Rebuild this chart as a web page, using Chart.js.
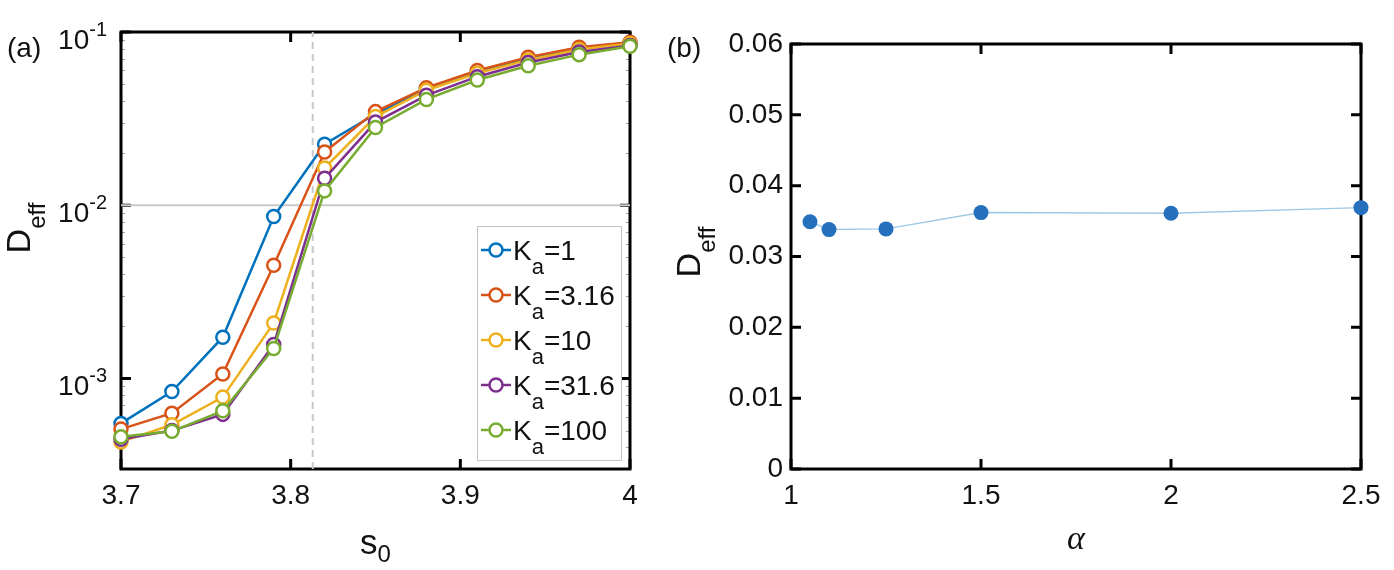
<!DOCTYPE html>
<html>
<head>
<meta charset="utf-8">
<script src="https://cdn.jsdelivr.net/npm/chart.js@4.4.1/dist/chart.umd.min.js"></script>
<style>
  html, body { margin: 0; padding: 0; background: #fff; }
  #wrapA { position: absolute; left: 0; top: 0; width: 660px; height: 570px; }
  #wrapB { position: absolute; left: 660px; top: 0; width: 734px; height: 570px; }
</style>
</head>
<body>
<div id="wrapA"><canvas id="chartA"></canvas></div>
<div id="wrapB"><canvas id="chartB"></canvas></div>
<script>
// panel (a): D_eff against s0 for several K_a
const s0 = [3.70, 3.73, 3.76, 3.79, 3.82, 3.85, 3.88, 3.91, 3.94, 3.97, 4.00];
const kaLabels = ['1', '3.16', '10', '31.6', '100'];
const dKa1    = [5.5e-4, 8.4e-4, 1.73e-3, 8.6e-3, 0.0225, 0.0336, 0.0472, 0.0590, 0.0708, 0.0810, 0.0866];
const dKa316  = [5.1e-4, 6.3e-4, 1.06e-3, 4.5e-3, 0.0203, 0.0347, 0.0477, 0.0599, 0.0716, 0.0817, 0.0874];
const dKa10   = [4.3e-4, 5.4e-4, 7.8e-4, 2.09e-3, 0.0164, 0.0325, 0.0461, 0.0578, 0.0690, 0.0792, 0.0858];
const dKa316b = [4.45e-4, 5.0e-4, 6.2e-4, 1.57e-3, 0.0143, 0.0302, 0.0431, 0.0552, 0.0667, 0.0767, 0.0835];
const dKa100  = [4.6e-4, 4.95e-4, 6.5e-4, 1.49e-3, 0.0121, 0.0281, 0.0408, 0.0528, 0.0638, 0.0740, 0.0828];
const s0Ticks = [3.7, 3.8, 3.9, 4];
const dTicks = [1e-3, 1e-2, 1e-1];
const dTickExp = ['-3', '-2', '-1'];
const s0Critical = 3.813;
const dRef = 0.01;

// panel (b): D_eff against alpha
const alpha = [1.05, 1.1, 1.25, 1.5, 2, 2.5];
const dAlpha = [0.0349, 0.0338, 0.0339, 0.0362, 0.0361, 0.0369];
const alphaTicks = [1, 1.5, 2, 2.5];
const dAlphaTicks = [0, 0.01, 0.02, 0.03, 0.04, 0.05, 0.06];

const FONT = '"Liberation Sans", Arial, Helvetica, sans-serif';
const INK = '#111';
const COLORS = ['#0072BD', '#D95319', '#EDB120', '#7E2F8E', '#77AC30'];
const seriesA = [dKa1, dKa316, dKa10, dKa316b, dKa100];
const Y_MIN_A = 3e-4, Y_MAX_A = 0.1;

// text with a sub- or superscript part after the base
function richText(ctx, x, y, pieces, align) {
  let total = 0;
  pieces.forEach(p => { ctx.font = p.size + 'px ' + FONT; p.w = ctx.measureText(p.t).width; total += p.w; });
  let cx = align === 'right' ? x - total : align === 'center' ? x - total / 2 : x;
  ctx.textAlign = 'left';
  pieces.forEach(p => {
    ctx.font = p.size + 'px ' + FONT;
    ctx.fillText(p.t, cx, y + (p.dy || 0));
    cx += p.w;
  });
}

function frame(chart, xTicks, yTicks, minorY) {
  const { ctx, chartArea: a, scales: { x, y } } = chart;
  const L = 10;
  ctx.save();
  if (minorY) {
    ctx.strokeStyle = '#a0a0a0';
    ctx.lineWidth = 1;
    minorY.forEach(v => {
      const py = Math.round(y.getPixelForValue(v)) + 0.5;
      ctx.beginPath();
      ctx.moveTo(a.left, py); ctx.lineTo(a.left + 4, py);
      ctx.moveTo(a.right - 4, py); ctx.lineTo(a.right, py);
      ctx.stroke();
    });
  }
  ctx.strokeStyle = '#000';
  ctx.lineWidth = 3;
  xTicks.forEach(v => {
    const px = x.getPixelForValue(v);
    ctx.beginPath();
    ctx.moveTo(px, a.bottom); ctx.lineTo(px, a.bottom - L);
    ctx.moveTo(px, a.top); ctx.lineTo(px, a.top + L);
    ctx.stroke();
  });
  yTicks.forEach(v => {
    const py = y.getPixelForValue(v);
    ctx.beginPath();
    ctx.moveTo(a.left, py); ctx.lineTo(a.left + L, py);
    ctx.moveTo(a.right, py); ctx.lineTo(a.right - L, py);
    ctx.stroke();
  });
  ctx.strokeRect(a.left, a.top, a.right - a.left, a.bottom - a.top);
  ctx.restore();
}

function yTitle(ctx, bx, cy) {
  ctx.save();
  ctx.translate(bx, cy);
  ctx.rotate(-Math.PI / 2);
  ctx.fillStyle = INK;
  ctx.textBaseline = 'alphabetic';
  richText(ctx, 0, 0, [{ t: 'D', size: 34 }, { t: 'eff', size: 24, dy: 15 }], 'center');
  ctx.restore();
}

const minorA = [];
[1e-4, 1e-3, 1e-2].forEach(d => { for (let m = 2; m <= 9; m++) { const v = m * d; if (v >= Y_MIN_A && v <= Y_MAX_A) minorA.push(v); } });

const decorA = {
  id: 'decorA',
  beforeDatasetsDraw(chart) { frame(chart, s0Ticks, dTicks, minorA); },
  afterDraw(chart) {
    const { ctx, chartArea: a, scales: { y } } = chart;
    ctx.save();
    ctx.fillStyle = INK;
    ctx.textBaseline = 'alphabetic';
    // log tick labels 10^n
    dTicks.forEach((v, i) => {
      const py = y.getPixelForValue(v);
      richText(ctx, a.left - 14, py + 17, [{ t: '10', size: 28 }, { t: dTickExp[i], size: 20, dy: -13 }], 'right');
    });
    // panel label and axis titles
    ctx.font = '28px ' + FONT;
    ctx.textAlign = 'left';
    ctx.fillText('(a)', 7, 57);
    richText(ctx, (a.left + a.right) / 2, 554, [{ t: 's', size: 35 }, { t: '0', size: 24, dy: 8 }], 'center');
    ctx.restore();
    yTitle(ctx, 30, 228);

    // legend
    const lw = 144, lh = 234;
    const lx = a.right - 9 - lw, ly = a.bottom - 9 - lh;
    ctx.save();
    ctx.fillStyle = '#fff';
    ctx.fillRect(lx, ly, lw, lh);
    ctx.strokeStyle = '#c4c4c4';
    ctx.lineWidth = 1;
    ctx.strokeRect(lx + 0.5, ly + 0.5, lw, lh);
    kaLabels.forEach((lab, i) => {
      const cy = ly + 24 + 45 * i;
      ctx.strokeStyle = COLORS[i];
      ctx.lineWidth = 2.5;
      ctx.beginPath();
      ctx.moveTo(lx + 4, cy); ctx.lineTo(lx + 34, cy);
      ctx.stroke();
      ctx.beginPath();
      ctx.arc(lx + 19, cy, 6.5, 0, Math.PI * 2);
      ctx.fillStyle = '#fff';
      ctx.fill();
      ctx.stroke();
      ctx.fillStyle = INK;
      richText(ctx, lx + 36, cy + 10, [{ t: 'K', size: 28 }, { t: 'a', size: 22, dy: 14 }, { t: '=' + lab, size: 28 }], 'left');
    });
    ctx.restore();
  }
};

const decorB = {
  id: 'decorB',
  beforeDatasetsDraw(chart) { frame(chart, alphaTicks, dAlphaTicks, null); },
  afterDraw(chart) {
    const { ctx, chartArea: a } = chart;
    ctx.save();
    ctx.fillStyle = INK;
    ctx.textBaseline = 'alphabetic';
    ctx.font = '28px ' + FONT;
    ctx.textAlign = 'left';
    ctx.fillText('(b)', 7, 57);
    ctx.textAlign = 'center';
    ctx.font = 'italic 34px "Liberation Serif", "DejaVu Serif", serif';
    ctx.fillText('\u03b1', (a.left + a.right) / 2, 549);
    ctx.restore();
    yTitle(ctx, 40, 252);
  }
};

const tickFont = { family: FONT, size: 28 };

new Chart(document.getElementById('chartA'), {
  type: 'line',
  data: {
    datasets: [
      ...seriesA.map((vals, i) => ({
        label: 'K_a=' + kaLabels[i],
        data: s0.map((v, j) => ({ x: v, y: vals[j] })),
        borderColor: COLORS[i],
        pointBorderColor: COLORS[i],
        pointBackgroundColor: '#fff',
        borderWidth: 2.5,
        pointRadius: 6.5,
        pointBorderWidth: 2.5,
        order: 5 - i,
        clip: false
      })),
      {
        label: 'ref',
        data: [{ x: s0Ticks[0], y: dRef }, { x: s0Ticks[s0Ticks.length - 1], y: dRef }],
        borderColor: '#c8c8c8', borderWidth: 2, pointRadius: 0, order: 10
      },
      {
        label: 'crit',
        data: [{ x: s0Critical, y: Y_MIN_A }, { x: s0Critical, y: Y_MAX_A }],
        borderColor: '#c8c8c8', borderWidth: 2, borderDash: [7, 5], pointRadius: 0, order: 10
      }
    ]
  },
  options: {
    responsive: true,
    maintainAspectRatio: false,
    animation: false,
    layout: { padding: { top: 32, right: 30, left: 0, bottom: 0 } },
    plugins: { legend: { display: false }, tooltip: { enabled: false } },
    scales: {
      x: {
        type: 'linear', min: 3.7, max: 4,
        grid: { display: false, drawTicks: false }, border: { display: false },
        afterBuildTicks: ax => { ax.ticks = s0Ticks.map(v => ({ value: v })); },
        afterFit: ax => { ax.height = 101; ax.paddingLeft = 0; ax.paddingRight = 0; },
        ticks: { font: tickFont, color: INK, padding: 10, maxRotation: 0, autoSkip: false, callback: v => String(v) }
      },
      y: {
        type: 'logarithmic', min: Y_MIN_A, max: Y_MAX_A,
        grid: { display: false, drawTicks: false }, border: { display: false },
        afterBuildTicks: ax => { ax.ticks = dTicks.map(v => ({ value: v })); },
        afterFit: ax => { ax.width = 121; },
        ticks: { display: false }
      }
    }
  },
  plugins: [decorA]
});

new Chart(document.getElementById('chartB'), {
  type: 'line',
  data: {
    datasets: [{
      label: 'D_eff',
      data: alpha.map((v, j) => ({ x: v, y: dAlpha[j] })),
      borderColor: 'rgba(0,114,189,0.38)',
      borderWidth: 1.5,
      pointBackgroundColor: '#2470bd',
      pointBorderColor: '#2470bd',
      pointBorderWidth: 0,
      pointRadius: 7.5,
      clip: false
    }]
  },
  options: {
    responsive: true,
    maintainAspectRatio: false,
    animation: false,
    layout: { padding: { top: 44, right: 33, left: 0, bottom: 0 } },
    plugins: { legend: { display: false }, tooltip: { enabled: false } },
    scales: {
      x: {
        type: 'linear', min: 1, max: 2.5,
        grid: { display: false, drawTicks: false }, border: { display: false },
        afterBuildTicks: ax => { ax.ticks = alphaTicks.map(v => ({ value: v })); },
        afterFit: ax => { ax.height = 101; ax.paddingLeft = 0; ax.paddingRight = 0; },
        ticks: { font: tickFont, color: INK, padding: 10, maxRotation: 0, autoSkip: false, callback: v => String(v) }
      },
      y: {
        type: 'linear', min: 0, max: 0.06,
        grid: { display: false, drawTicks: false }, border: { display: false },
        afterBuildTicks: ax => { ax.ticks = dAlphaTicks.map(v => ({ value: v })); },
        afterFit: ax => { ax.width = 131; ax.paddingTop = 0; ax.paddingBottom = 0; },
        ticks: { font: tickFont, color: INK, padding: 8, autoSkip: false, callback: v => String(v) }
      }
    }
  },
  plugins: [decorB]
});
</script>
</body>
</html>
